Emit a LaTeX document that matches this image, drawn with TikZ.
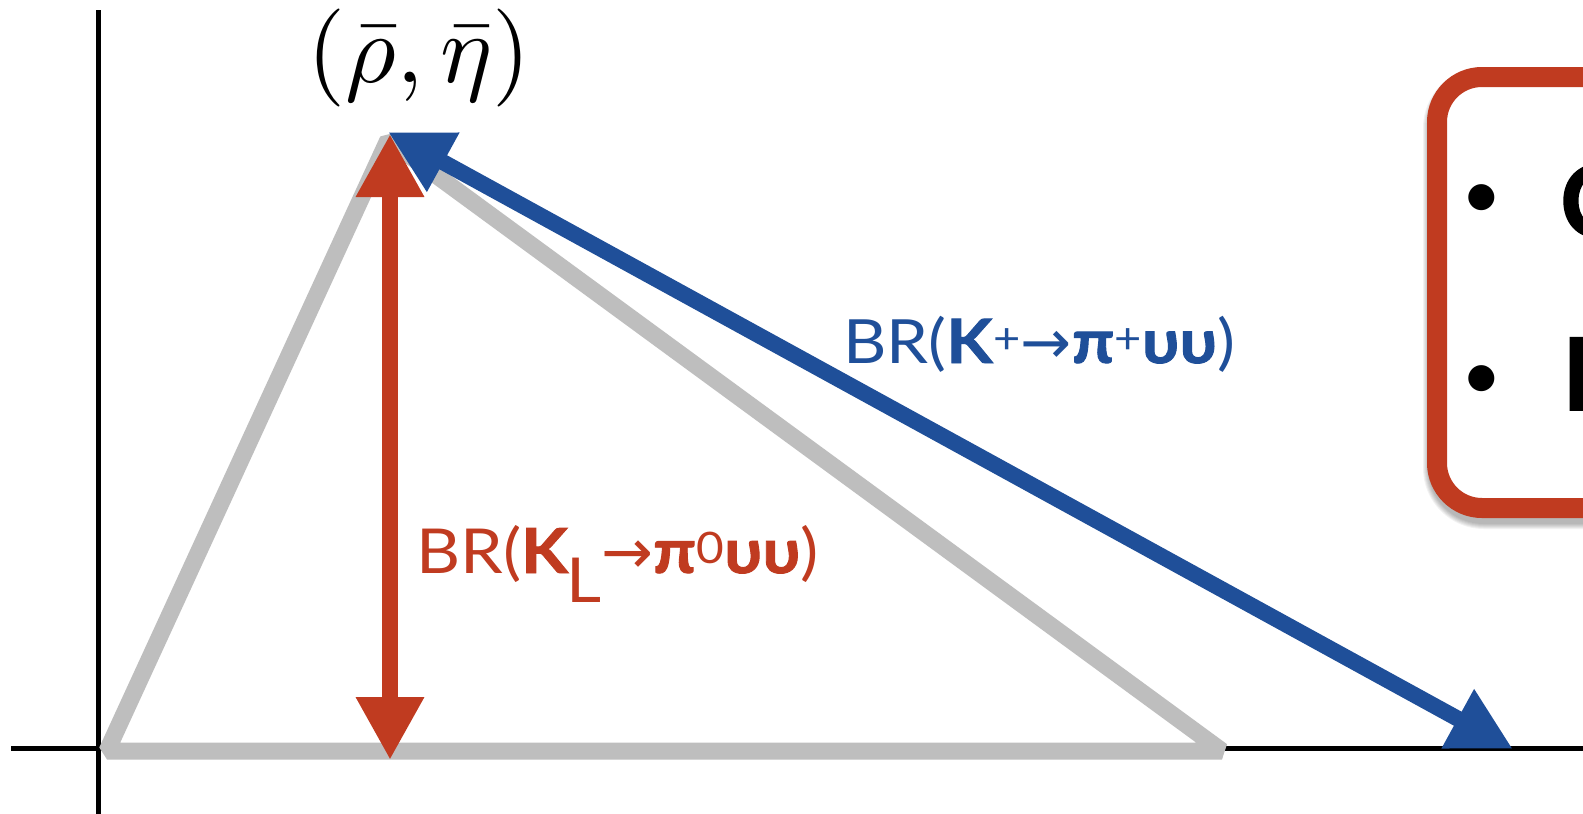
\documentclass[tikz,border=0pt]{standalone}
\usepackage{fontspec}
\usetikzlibrary{arrows.meta}
\newfontfamily\labfont{Lato}[FakeStretch=1.1, BoldFeatures={FakeBold=1.5}]
\newfontfamily\itemfont{Lato}[BoldFeatures={FakeBold=1.5}]
\newfontfamily\arrfont{DejaVu Sans}
\definecolor{cred}{RGB}{192,59,32}
\definecolor{cblue}{RGB}{31,79,153}
\definecolor{cgrey}{RGB}{190,190,190}
\tikzset{
  axisline/.style={line width=5pt, black},
  triline/.style={line width=17pt, cgrey, line join=bevel},
  redarrow/.style={line width=16pt, cred, {Triangle[length=63pt,width=64pt]}-{Triangle[length=63pt,width=64pt]}},
  bluearrow/.style={line width=16pt, cblue, {Triangle[length=63pt,width=63pt]}-{Triangle[length=63pt,width=63pt]}},
  redlab/.style={anchor=base west, inner sep=0pt, text=cred, font=\labfont\fontsize{62}{64}\selectfont},
  bluelab/.style={anchor=base west, inner sep=0pt, text=cblue, font=\labfont\fontsize{61}{63}\selectfont},
  boxst/.style={draw=cred, line width=20pt, fill=white, rounded corners=45pt},
  bulst/.style={anchor=base, inner sep=0pt, font=\itemfont\fontsize{70}{70}\selectfont},
  itemst/.style={anchor=base west, inner sep=0pt, font=\itemfont\bfseries\fontsize{100}{100}\selectfont},
}
\begin{document}
\begin{tikzpicture}[x=1pt,y=-1pt]
\useasboundingbox (0,0) rectangle (1583,814);
\clip (0,0) rectangle (1583,814);
\fill[white] (0,0) rectangle (1583,814);
% axes
\coordinate (yt) at (98.5,10);
\coordinate (yb) at (98.5,814);
\coordinate (xl) at (11,748);
\coordinate (xr) at (1583,748);
\draw[axisline] (yt) -- (yb);
\draw[axisline] (xl) -- (xr);
% grey triangle
\coordinate (A) at (107,751);
\coordinate (P) at (388,140);
\coordinate (B) at (1222,751);
\draw[triline] (A) -- (P) -- (B) -- cycle;
% arrows
\coordinate (rt) at (390,134);
\coordinate (rb) at (390,760);
\draw[redarrow] (rt) -- (rb);
\coordinate (bt) at (388,132);
\coordinate (bb) at (1513,749);
\draw[bluearrow] (bt) -- (bb);
% labels
\node[inner sep=0pt, scale=9.8] (pe) at (419,58) {$(\bar\rho,\bar\eta)$};
\node[redlab] (lr) at (416,573) {BR(\textbf{K}\kern-0.04em\raisebox{-0.48em}{L}{\arrfont →}\textbf{π}\textsuperscript{0}\textbf{υυ})};
\node[bluelab] (lb) at (843,363) {BR(\textbf{K}\textsuperscript{+}{\arrfont →}\textbf{π}\textsuperscript{+}\textbf{υυ})};
% box with soft shadow
\foreach \i in {1,...,6}{
  \draw[black, opacity=0.05, line width={20pt+2*\i pt}, rounded corners=45pt] (1439,83) rectangle (1700,513);
}
\node[boxst, minimum width=263pt, minimum height=431pt] (bx) at (1568.5,292.5) {};
\node[bulst] (b1) at (1482,218) {•};
\node[itemst] (t1) at (1560,237) {C};
\node[bulst] (b2) at (1482,399) {•};
\node[itemst] (t2) at (1562,410) {B};
\end{tikzpicture}
\end{document}
